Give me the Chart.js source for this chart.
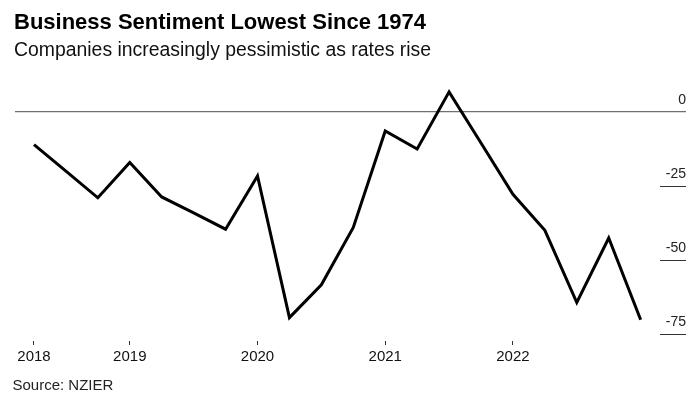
<!DOCTYPE html>
<html>
<head>
<meta charset="utf-8">
<script src="https://cdn.jsdelivr.net/npm/chart.js@4.4.1/dist/chart.umd.min.js"></script>
<style>
    html, body { margin: 0; padding: 0; background: #fff; }
    #wrap { position: relative; width: 700px; height: 403px; overflow: hidden; font-family: 'Liberation Sans', Arial, Helvetica, sans-serif; }
    #chart { position: absolute; left: 0; top: 0; }
    .title { position: absolute; left: 14px; top: 10.7px; font-size: 22px; line-height: 22px; font-weight: bold; color: #000; white-space: nowrap; }
    .subtitle { position: absolute; left: 14px; top: 39.6px; font-size: 19.4px; line-height: 19.4px; color: #111; white-space: nowrap; }
    .source { position: absolute; left: 12.5px; top: 377.3px; font-size: 15px; line-height: 15px; color: #222; white-space: nowrap; }
</style>
</head>
<body>
<div id="wrap">
    <canvas id="chart" width="700" height="403"></canvas>
    <div class="title">Business Sentiment Lowest Since 1974</div>
    <div class="subtitle">Companies increasingly pessimistic as rates rise</div>
    <div class="source">Source: NZIER</div>
</div>
<script>
// Quarterly business confidence survey (net %)
const quarters = [
    '2018 Q1', '2018 Q2', '2018 Q3', '2018 Q4',
    '2019 Q1', '2019 Q2', '2019 Q3', '2019 Q4',
    '2020 Q1', '2020 Q2', '2020 Q3', '2020 Q4',
    '2021 Q1', '2021 Q2', '2021 Q3', '2021 Q4',
    '2022 Q1', '2022 Q2', '2022 Q3', '2022 Q4'
];
const sentiment = [
    -11, -20, -29, -17.1,
    -28.7, -34.1, -39.6, -21.6,
    -69.5, -58.4, -39, -6.4,
    -12.5, 6.8, -10.5, -27.8,
    -40, -64.4, -42.6, -70.2
];
// x ticks (index into quarters) and their year labels
const yearTickIdx = [0, 3, 7, 11, 15];
const yearLabels = ['2018', '2019', '2020', '2021', '2022'];
const yTicks = [-75, -50, -25, 0];

const FONT = "'Liberation Sans', Arial, Helvetica, sans-serif";

// Right-hand value labels sitting on short rules
const rightLabels = {
    id: 'rightLabels',
    afterDraw(chart) {
        const { ctx, chartArea } = chart;
        const y = chart.scales.y;
        ctx.save();
        ctx.font = '14px ' + FONT;
        ctx.fillStyle = '#222';
        ctx.textAlign = 'right';
        ctx.textBaseline = 'alphabetic';
        y.ticks.forEach(t => {
            const py = Math.round(y.getPixelForValue(t.value)) + 0.5;
            if (t.value !== 0) {
                ctx.strokeStyle = '#333';
                ctx.lineWidth = 1;
                ctx.beginPath();
                ctx.moveTo(chartArea.right - 26, py);
                ctx.lineTo(chartArea.right, py);
                ctx.stroke();
            }
            ctx.fillText(String(t.value), chartArea.right, py - 8.5);
        });
        ctx.restore();
    }
};

new Chart(document.getElementById('chart'), {
    type: 'line',
    data: {
        labels: quarters,
        datasets: [{
            label: 'Business confidence',
            data: sentiment.map((v, i) => ({ x: i, y: v })),
            borderColor: '#000',
            borderWidth: 3,
            borderJoinStyle: 'miter',
            pointRadius: 0,
            tension: 0,
            fill: false
        }]
    },
    options: {
        responsive: false,
        animation: false,
        devicePixelRatio: 1,
        layout: { padding: { left: 15, right: 14, top: 82.4, bottom: 34 } },
        plugins: {
            legend: { display: false },
            tooltip: { enabled: false }
        },
        scales: {
            x: {
                type: 'linear',
                min: -0.595,
                max: 20.42,
                afterBuildTicks: s => { s.ticks = yearTickIdx.map(v => ({ value: v })); },
                ticks: {
                    autoSkip: false,
                    maxRotation: 0,
                    padding: 3,
                    color: '#111',
                    font: { family: FONT, size: 15 },
                    callback: v => yearLabels[yearTickIdx.indexOf(v)] ?? ''
                },
                grid: { drawOnChartArea: false, drawTicks: true, tickLength: 4, tickColor: '#333', tickWidth: 1 },
                border: { display: false }
            },
            y: {
                type: 'linear',
                position: 'right',
                min: -77.4,
                max: 10,
                afterBuildTicks: s => { s.ticks = yTicks.map(v => ({ value: v })); },
                ticks: { display: false },
                grid: {
                    drawTicks: false,
                    color: c => (c.tick && c.tick.value === 0) ? '#707070' : 'rgba(0,0,0,0)',
                    lineWidth: 1.2
                },
                border: { display: false }
            }
        }
    },
    plugins: [rightLabels]
});
</script>
</body>
</html>
